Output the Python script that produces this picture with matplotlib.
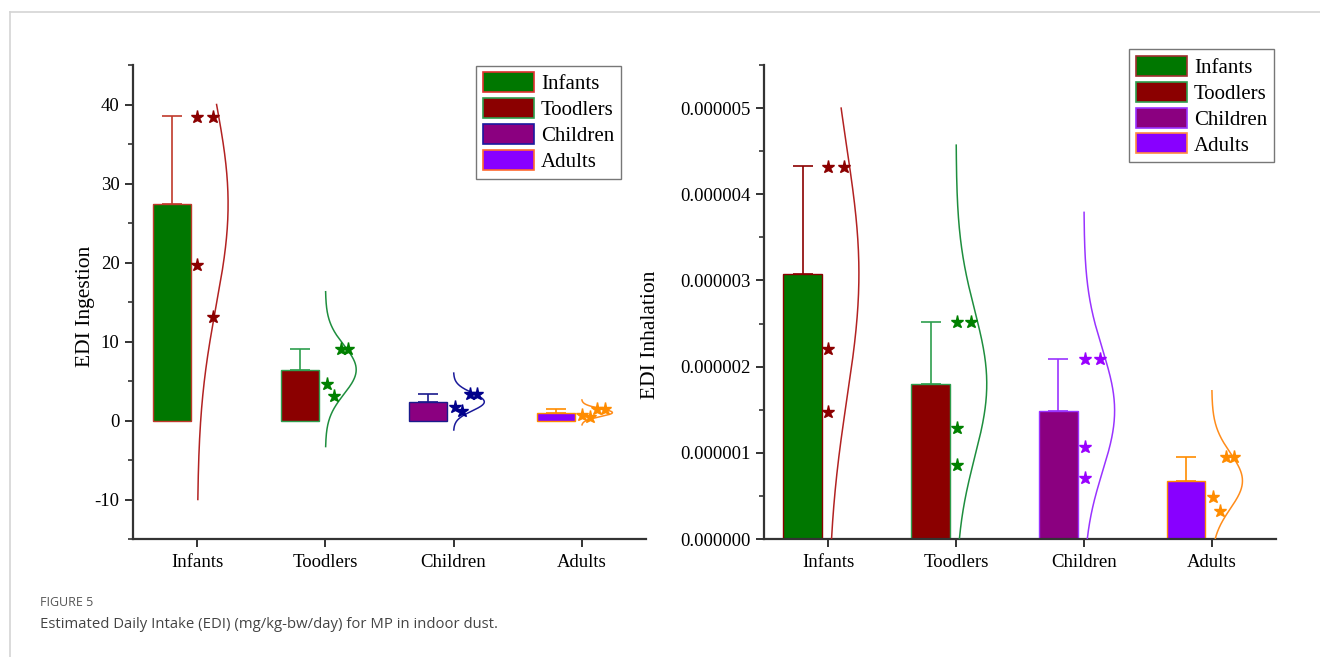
import numpy as np
import matplotlib
matplotlib.use('Agg')
import matplotlib.pyplot as plt
from matplotlib.lines import Line2D
from matplotlib.patches import Patch
from matplotlib.ticker import MultipleLocator, FormatStrFormatter

categories = ['Infants', 'Toodlers', 'Children', 'Adults']

# EDI ingestion (mg/kg-bw/day)
ing_mean = [27.4, 6.43, 2.36, 1.0]
ing_sd = [11.2, 2.6, 1.0, 0.45]
ing_pts = [[38.4, 38.4, 19.7, 13.1],
           [9.0, 9.0, 4.66, 3.05],
           [3.35, 3.35, 1.69, 1.14],
           [1.44, 1.44, 0.72, 0.42]]
ing_jit = [[0.0, 0.12, 0.0, 0.12],
           [0.125, 0.177, 0.01, 0.067],
           [0.125, 0.18, 0.01, 0.067],
           [0.122, 0.18, 0.006, 0.064]]
ing_curve_sd = [13.0, 3.07, 1.14, 0.52]
ing_curve_lo = [-10, -3.3, -1.2, -0.55]
ing_curve_hi = [40, 16.3, 6.0, 2.6]

# EDI inhalation
inh_mean = [3.08e-6, 1.80e-6, 1.49e-6, 0.675e-6]
inh_sd = [1.25e-6, 0.72e-6, 0.60e-6, 0.28e-6]
inh_pts = [[4.32e-6, 4.32e-6, 2.21e-6, 1.47e-6],
           [2.52e-6, 2.52e-6, 1.29e-6, 0.857e-6],
           [2.09e-6, 2.09e-6, 1.07e-6, 0.71e-6],
           [0.95e-6, 0.95e-6, 0.49e-6, 0.32e-6]]
inh_jit = [[0.0, 0.12, 0.0, 0.0],
           [0.01, 0.12, 0.01, 0.01],
           [0.006, 0.125, 0.006, 0.006],
           [0.11, 0.176, 0.01, 0.064]]
inh_curve_sd = [1.46e-6, 0.853e-6, 0.708e-6, 0.322e-6]
inh_curve_lo = [0, 0, 0, 0]
inh_curve_hi = [5.0e-6, 4.57e-6, 3.79e-6, 1.72e-6]

bar_faces = ['#007700', '#8b0000', '#8b0080', '#8800ff']

left_style = dict(
    edges=['#c0392b', '#2e9e4e', '#1a1a8c', '#ff8c00'],
    stars=['#8b0000', '#008000', '#00008b', '#ff8c00'],
    curves=['#b22222', '#1e8e3e', '#1a1a9a', '#ff8c1a'],
)
right_style = dict(
    edges=['#8b0000', '#2e9e4e', '#9933ff', '#ff8c00'],
    stars=['#8b0000', '#008000', '#9900ff', '#ff8c00'],
    curves=['#b22222', '#1e8e3e', '#9933ff', '#ff8c1a'],
)

plt.rcParams['font.family'] = ['Liberation Serif', 'DejaVu Serif']
plt.rcParams['axes.unicode_minus'] = False

fig = plt.figure(figsize=(13.2, 6.57), dpi=100)
ax1 = fig.add_axes([133.3 / 1320, 1 - 539 / 657, 512.4 / 1320, 474 / 657])
ax2 = fig.add_axes([764.3 / 1320, 1 - 539 / 657, 511.4 / 1320, 474 / 657])


def draw_panel(ax, means, sds, pts, jit, csd, clo, chi, st):
    x = np.arange(1, len(categories) + 1)
    ax.bar(x - 0.2, means, width=0.3, color=bar_faces,
           edgecolor=st['edges'], linewidth=1.0, zorder=2)
    for i in range(len(x)):
        ax.errorbar(x[i] - 0.2, means[i], yerr=[[0], [sds[i]]], fmt='none',
                    ecolor=st['edges'][i], elinewidth=1.2, capsize=7,
                    capthick=1.2, zorder=3)
        ax.plot(x[i] + np.array(jit[i]), pts[i], linestyle='none', marker='*',
                markersize=9.5, color=st['stars'][i], zorder=4)
        yy = np.linspace(clo[i], chi[i], 300)
        xx = x[i] + 0.24 * np.exp(-0.5 * ((yy - means[i]) / csd[i]) ** 2)
        ax.plot(xx, yy, color=st['curves'][i], linewidth=1.1, zorder=3)
    ax.set_xlim(0.5, 4.5)
    ax.set_xticks(x)
    ax.set_xticklabels(categories)
    for side in ['top', 'right']:
        ax.spines[side].set_visible(False)
    for side in ['left', 'bottom']:
        ax.spines[side].set_linewidth(1.6)
        ax.spines[side].set_color('#333333')
    ax.tick_params(axis='both', which='major', direction='out', length=6,
                   width=1.4, color='#333333', labelsize=13.5, pad=4)
    ax.tick_params(axis='y', which='minor', direction='out', length=3.5,
                   width=1.2, color='#333333')
    ax.tick_params(axis='x', pad=5)


draw_panel(ax1, ing_mean, ing_sd, ing_pts, ing_jit, ing_curve_sd,
           ing_curve_lo, ing_curve_hi, left_style)
ax1.set_ylim(-15, 45)
ax1.yaxis.set_minor_locator(MultipleLocator(5))
ax1.set_yticks([-10, 0, 10, 20, 30, 40])
ax1.set_ylabel('EDI Ingestion', fontsize=15.5)
ax1.yaxis.set_label_coords(-0.074, 0.49)

draw_panel(ax2, inh_mean, inh_sd, inh_pts, inh_jit, inh_curve_sd,
           inh_curve_lo, inh_curve_hi, right_style)
ax2.set_ylim(0, 5.5e-6)
ax2.set_yticks([0, 1e-6, 2e-6, 3e-6, 4e-6, 5e-6])
ax2.yaxis.set_minor_locator(MultipleLocator(0.5e-6))
ax2.yaxis.set_major_formatter(FormatStrFormatter('%.6f'))
ax2.set_ylabel('EDI Inhalation', fontsize=15.5)
ax2.yaxis.set_label_coords(-0.203, 0.43)


def add_legend(ax, edges, anchor):
    handles = [Patch(facecolor=bar_faces[i], edgecolor=edges[i], linewidth=1.2)
               for i in range(len(categories))]
    leg = ax.legend(handles, categories, loc='upper right',
                    bbox_to_anchor=anchor, bbox_transform=fig.transFigure,
                    fontsize=15, frameon=True, fancybox=False,
                    handlelength=2.45, handleheight=1.1, labelspacing=0.18,
                    handletextpad=0.35, borderpad=0.32, borderaxespad=0)
    leg.get_frame().set_edgecolor('#555555')
    leg.get_frame().set_linewidth(1.0)


add_legend(ax1, ['#e03030', '#2e9e4e', '#1a1aa0', '#ff6a30'],
           (621 / 1320, 1 - 65.7 / 657))
add_legend(ax2, ['#a03030', '#2e9e4e', '#9933ff', '#ff8c40'],
           (1274 / 1320, 1 - 49.3 / 657))

# page frame and caption
fig.add_artist(Line2D([10 / 1320, 1], [1 - 12 / 657, 1 - 12 / 657],
                      transform=fig.transFigure, color='#d4d4d4', linewidth=1.2))
fig.add_artist(Line2D([10 / 1320, 10 / 1320], [0, 1 - 12 / 657],
                      transform=fig.transFigure, color='#d4d4d4', linewidth=1.2))
fig.text(40 / 1320, 1 - 602 / 657, 'FIGURE 5', fontsize=9, color='#555555',
         family='Open Sans', va='center', ha='left')
fig.text(40 / 1320, 1 - 624 / 657,
         'Estimated Daily Intake (EDI) (mg/kg-bw/day) for MP in indoor dust.',
         fontsize=10.7, color='#444444', family='Open Sans', va='center', ha='left')

fig.savefig('out.png', dpi=100)
